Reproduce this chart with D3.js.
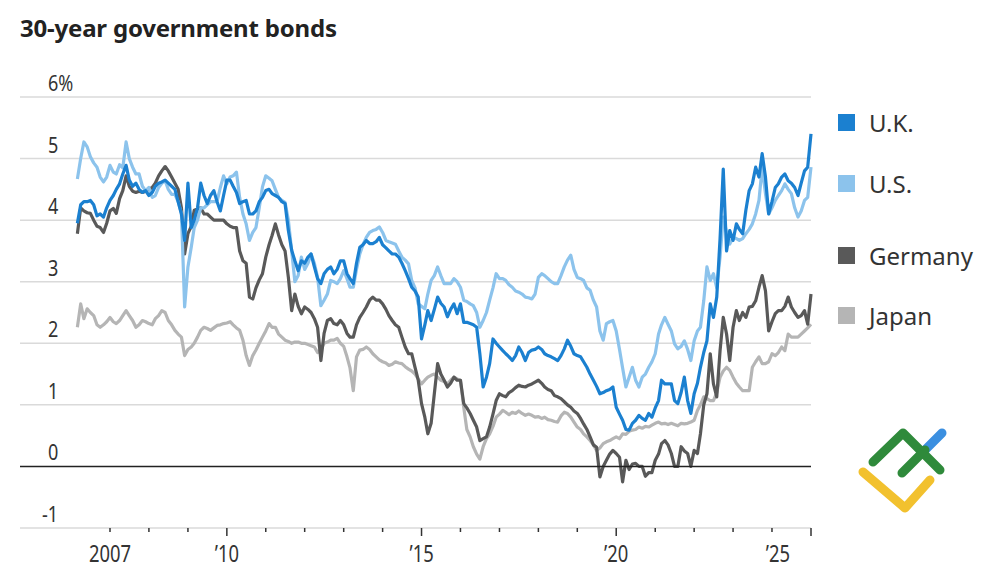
<!DOCTYPE html>
<html>
<head>
<meta charset="utf-8">
<script src="https://cdn.jsdelivr.net/npm/d3@7"></script>
<style>
  body { margin: 0; background: #fff; }
  svg { display: block; }
</style>
</head>
<body>
<div id="chart"></div>
<script>
// ---- data (monthly, Mar 2006 .. Jan 2025) ----
var seriesNames = ["U.K.", "U.S.", "Germany", "Japan"];

var ukYields = [
  3.95, 4.25, 4.3, 4.3, 4.32, 4.25, 4.07, 4.1, 4.05, 4.2,                 // 2006
  4.32, 4.4, 4.5, 4.59, 4.75, 4.89, 4.65, 4.55, 4.6, 4.5, 4.45, 4.48,     // 2007
  4.4, 4.45, 4.55, 4.6, 4.62, 4.65, 4.6, 4.55, 4.5, 4.3, 4.1, 3.67,       // 2008
  4.6, 3.88, 4.0, 4.2, 4.6, 4.4, 4.27, 4.4, 4.48, 4.3, 4.15, 4.4,         // 2009
  4.65, 4.65, 4.55, 4.45, 4.27, 4.3, 4.32, 4.1, 4.1, 4.15, 4.3, 4.37,     // 2010
  4.48, 4.5, 4.43, 4.4, 4.37, 4.3, 4.27, 3.83, 3.51, 3.34, 3.18, 3.34,    // 2011
  3.3, 3.4, 3.45, 3.24, 3.05, 2.97, 3.13, 3.2, 3.24, 3.13, 3.2, 3.34,     // 2012
  3.34, 3.13, 3.05, 2.97, 3.3, 3.56, 3.6, 3.67, 3.62, 3.62, 3.65, 3.72,   // 2013
  3.6, 3.55, 3.5, 3.45, 3.45, 3.4, 3.3, 3.18, 3.05, 2.91, 2.85, 2.75,     // 2014
  2.07, 2.3, 2.53, 2.37, 2.55, 2.75, 2.65, 2.59, 2.43, 2.55, 2.64, 2.48,  // 2015
  2.64, 2.34, 2.34, 2.32, 2.3, 2.26, 1.83, 1.29, 1.45, 1.67, 2.07, 2.0,   // 2016
  1.94, 1.88, 1.83, 1.78, 1.72, 1.8, 1.94, 1.85, 1.72, 1.85, 1.89, 1.9,   // 2017
  1.94, 1.9, 1.83, 1.8, 1.78, 1.75, 1.72, 1.8, 1.91, 2.05, 1.95, 1.83,    // 2018
  1.8, 1.78, 1.7, 1.61, 1.5, 1.4, 1.3, 1.18, 1.2, 1.23, 1.25, 1.29,       // 2019
  0.96, 0.85, 0.75, 0.6, 0.59, 0.7, 0.75, 0.83, 0.78, 0.75, 0.86, 0.8,    // 2020
  0.95, 1.07, 1.4, 1.34, 1.34, 1.34, 1.07, 1.02, 1.2, 1.45, 1.07, 0.86,   // 2021
  1.18, 1.35, 1.61, 1.85, 2.04, 2.64, 2.42, 2.75, 3.7, 4.83, 3.5, 3.83,   // 2022
  3.67, 3.94, 3.85, 3.78, 4.16, 4.48, 4.59, 4.86, 4.7, 5.08, 4.7, 4.1,    // 2023
  4.3, 4.53, 4.59, 4.7, 4.75, 4.64, 4.6, 4.53, 4.4, 4.6, 4.8, 4.86,       // 2024
  5.4                                                                     // 2025
];

var usYields = [
  4.67, 5.0, 5.27, 5.19, 5.03, 4.93, 4.86, 4.7, 4.62, 4.7,
  4.89, 4.78, 4.75, 4.9, 4.85, 5.27, 5.0, 4.86, 4.75, 4.75, 4.55, 4.48,
  4.53, 4.37, 4.4, 4.53, 4.6, 4.64, 4.5, 4.42, 4.42, 4.3, 4.11, 2.59,
  3.24, 3.56, 3.88, 4.0, 4.2, 4.2, 4.25, 4.3, 4.3, 4.3, 4.53, 4.72,
  4.59, 4.7, 4.72, 4.78, 4.37, 4.1, 3.94, 3.67, 3.8, 3.88, 4.2, 4.54,
  4.72, 4.68, 4.64, 4.5, 4.37, 4.32, 4.29, 4.0, 3.5, 3.0, 3.1, 3.4,
  3.2, 3.3, 3.45, 3.3, 3.07, 2.61, 2.7, 2.8, 3.02, 3.0, 2.97, 3.05,
  3.18, 3.05, 2.91, 2.91, 3.2, 3.45, 3.6, 3.72, 3.8, 3.83, 3.85, 3.89,
  3.8, 3.67, 3.65, 3.63, 3.61, 3.5, 3.4, 3.35, 3.29, 3.02, 2.9, 2.64,
  2.6, 2.56, 2.8, 3.02, 3.1, 3.24, 3.1, 2.97, 2.97, 2.97, 3.05, 3.0,
  2.91, 2.7, 2.68, 2.64, 2.61, 2.5, 2.26, 2.37, 2.5, 2.7, 2.9, 3.13,
  3.05, 3.05, 3.02, 2.95, 2.91, 2.85, 2.83, 2.8, 2.75, 2.74, 2.72, 2.8,
  3.07, 3.13, 3.1, 3.05, 3.0, 2.97, 2.97, 3.1, 3.24, 3.35, 3.43, 3.2,
  3.07, 3.05, 3.02, 2.9, 2.86, 2.7, 2.59, 2.2, 2.05, 2.32, 2.35, 2.37,
  2.2, 1.9, 1.6, 1.29, 1.45, 1.61, 1.4, 1.29, 1.45, 1.5, 1.61, 1.7,
  1.83, 2.15, 2.3, 2.42, 2.31, 2.2, 1.99, 1.91, 1.95, 2.04, 1.9, 1.72,
  2.04, 2.2, 2.26, 2.69, 3.24, 3.02, 3.13, 2.9, 3.4, 4.05, 3.8, 3.61,
  3.72, 3.7, 3.67, 3.7, 3.78, 3.85, 3.94, 4.1, 4.32, 4.86, 4.43, 4.1,
  4.2, 4.32, 4.4, 4.48, 4.59, 4.5, 4.43, 4.2, 4.05, 4.15, 4.32, 4.37,
  4.86
];

var germanyYields = [
  3.78, 4.2, 4.15, 4.12, 4.11, 4.0, 3.9, 3.88, 3.8, 3.95,
  4.15, 4.19, 4.11, 4.35, 4.48, 4.72, 4.55, 4.47, 4.45, 4.47, 4.45, 4.47,
  4.5, 4.53, 4.6, 4.72, 4.8, 4.87, 4.8, 4.7, 4.6, 4.5, 4.2, 3.45,
  3.78, 3.9, 4.16, 4.18, 4.2, 4.1, 4.1, 4.05, 4.0, 4.0, 4.0, 4.0,
  3.94, 3.9, 3.88, 3.88, 3.5, 3.34, 3.3, 2.75, 2.72, 2.9, 3.03, 3.13,
  3.4, 3.6, 3.75, 3.94, 3.76, 3.6, 3.5, 3.07, 2.53, 2.8, 2.6, 2.48,
  2.59, 2.55, 2.5, 2.4, 2.26, 1.72, 2.16, 2.37, 2.4, 2.32, 2.3, 2.37,
  2.3, 2.16, 2.1, 2.1, 2.3, 2.42, 2.5, 2.59, 2.7, 2.75, 2.7, 2.7,
  2.64, 2.55, 2.45, 2.37, 2.3, 2.26, 2.1, 1.94, 1.83, 1.83, 1.61, 1.4,
  1.02, 0.8, 0.53, 0.7, 1.18, 1.67, 1.5, 1.4, 1.29, 1.35, 1.45, 1.4,
  1.4, 1.02, 0.95, 0.86, 0.75, 0.64, 0.42, 0.45, 0.48, 0.64, 0.85, 1.07,
  1.18, 1.15, 1.13, 1.2, 1.23, 1.28, 1.32, 1.3, 1.29, 1.32, 1.34, 1.37,
  1.4, 1.35, 1.29, 1.25, 1.23, 1.15, 1.13, 1.1, 1.05, 1.0, 0.96, 0.9,
  0.86, 0.78, 0.69, 0.6, 0.48, 0.35, 0.31, -0.17, 0.0, 0.1, 0.2, 0.26,
  0.21, 0.15, -0.25, 0.1, -0.05, 0.04, 0.05, 0.0, 0.0, -0.16, -0.1, -0.1,
  0.1, 0.2, 0.37, 0.42, 0.35, 0.21, 0.0, 0.0, 0.32, 0.25, 0.21, 0.0,
  0.26, 0.21, 0.53, 1.0, 1.18, 1.83, 1.34, 1.13, 1.88, 2.42, 2.15, 1.72,
  2.26, 2.53, 2.37, 2.5, 2.42, 2.59, 2.6, 2.69, 2.91, 3.1, 2.85, 2.2,
  2.35, 2.48, 2.53, 2.53, 2.6, 2.75, 2.59, 2.5, 2.42, 2.45, 2.53, 2.31,
  2.8
];

var japanYields = [
  2.26, 2.64, 2.4, 2.56, 2.5, 2.45, 2.3, 2.26, 2.3, 2.35,
  2.42, 2.35, 2.32, 2.37, 2.45, 2.53, 2.45, 2.37, 2.26, 2.3, 2.37, 2.35,
  2.32, 2.3, 2.4, 2.45, 2.53, 2.5, 2.37, 2.3, 2.21, 2.15, 2.1, 1.8,
  1.9, 1.94, 2.0, 2.1, 2.21, 2.26, 2.24, 2.21, 2.25, 2.29, 2.3, 2.32,
  2.33, 2.35, 2.3, 2.25, 2.21, 2.05, 1.8, 1.64, 1.8, 1.89, 2.0, 2.1,
  2.2, 2.32, 2.26, 2.26, 2.15, 2.1, 2.05, 2.03, 2.0, 2.02, 2.02, 2.0,
  2.0, 1.98, 1.96, 1.94, 1.85, 1.9, 2.0, 2.02, 2.05, 2.05, 2.08, 2.0,
  1.95, 1.78, 1.6, 1.23, 1.78, 1.89, 1.9, 1.94, 1.9, 1.83, 1.78, 1.73,
  1.7, 1.68, 1.64, 1.66, 1.7, 1.68, 1.67, 1.62, 1.58, 1.55, 1.5, 1.42,
  1.34, 1.4, 1.45, 1.48, 1.5, 1.45, 1.4, 1.38, 1.34, 1.4, 1.45, 1.42,
  1.4, 0.96, 0.6, 0.48, 0.32, 0.2, 0.12, 0.32, 0.45, 0.53, 0.65, 0.8,
  0.85, 0.91, 0.88, 0.84, 0.88, 0.86, 0.9, 0.86, 0.83, 0.85, 0.83, 0.8,
  0.81, 0.78, 0.8, 0.76, 0.75, 0.73, 0.72, 0.82, 0.88, 0.86, 0.8, 0.72,
  0.64, 0.6, 0.53, 0.48, 0.42, 0.35, 0.26, 0.3, 0.37, 0.4, 0.42, 0.45,
  0.48, 0.45, 0.53, 0.52, 0.57, 0.59, 0.6, 0.64, 0.62, 0.65, 0.64, 0.67,
  0.7, 0.72, 0.69, 0.7, 0.68, 0.7, 0.68, 0.66, 0.7, 0.69, 0.7, 0.72,
  0.75, 0.91, 1.0, 1.13, 1.1, 1.07, 1.07, 1.2, 1.45, 1.55, 1.61, 1.56,
  1.45, 1.35, 1.29, 1.23, 1.23, 1.23, 1.61, 1.7, 1.78, 1.67, 1.67, 1.7,
  1.83, 1.8, 1.85, 1.94, 1.88, 2.15, 2.1, 2.1, 2.1, 2.15, 2.2, 2.25,
  2.31
];

var yTicks = [-1, 0, 1, 2, 3, 4, 5, 6];
var yTickLabels = ["-1", "0", "1", "2", "3", "4", "5", "6%"];
var xLabelYears = [2007, 2010, 2015, 2020, 2025];
var xTickLabels = ["2007", "\u201910", "\u201915", "\u201920", "\u201925"];
var majorYears = [2010, 2015, 2020, 2025];

// ---- layout ----
var svgWidth = 994;
var svgHeight = 575;
var plotLeft = 20;
var plotRight = 811;
var legendBaselines = [132, 193, 265, 325];

var months = d3.timeMonth.range(new Date(2006, 2, 1), new Date(2025, 1, 1));

var valueSets = [ukYields, usYields, germanyYields, japanYields];
var series = seriesNames.map(function(name, i) {
  return {
    name: name,
    values: months.map(function(m, j) { return {date: m, value: valueSets[i][j]}; })
  };
});

var color = d3.scaleOrdinal()
  .domain(seriesNames)
  .range(["#1b80d0", "#8cc3ec", "#595959", "#b5b5b5"]);

var x = d3.scaleTime()
  .domain([new Date(2007, 0, 1), new Date(2025, 0, 1)])
  .range([110, plotRight]);

var y = d3.scaleLinear()
  .domain([-1, 6])
  .range([528, 97]);

var svg = d3.select("#chart")
  .append("svg")
  .attr("width", svgWidth)
  .attr("height", svgHeight);

var labelFont = "'Noto Sans', sans-serif";

// title
svg.append("text")
  .attr("x", 20)
  .attr("y", 37)
  .attr("font-family", labelFont)
  .attr("font-weight", 700)
  .attr("font-size", 24)
  .attr("letter-spacing", -0.2)
  .attr("fill", "#222")
  .text("30-year government bonds");

// gridlines + y labels
var grid = svg.append("g");
grid.selectAll("line")
  .data(yTicks.filter(function(d) { return d !== 0; }))
  .enter()
  .append("line")
  .attr("x1", plotLeft)
  .attr("x2", plotRight)
  .attr("y1", function(d) { return y(d); })
  .attr("y2", function(d) { return y(d); })
  .attr("stroke", "#dadada")
  .attr("stroke-width", 1.5);

grid.selectAll("text")
  .data(yTicks)
  .enter()
  .append("text")
  .attr("transform", function(d) {
    return "translate(" + (d < 0 ? 42 : 48) + "," + (y(d) - 6) + ") scale(0.86,1)";
  })
  .attr("font-family", labelFont)
  .attr("font-size", 21)
  .attr("fill", "#333")
  .text(function(d, i) { return yTickLabels[i]; });

// x axis ticks
var years = d3.timeYear.range(new Date(2007, 0, 1), new Date(2025, 0, 2));
var xAxis = svg.append("g");
xAxis.selectAll("line")
  .data(years)
  .enter()
  .append("line")
  .attr("x1", function(d) { return x(d); })
  .attr("x2", function(d) { return x(d); })
  .attr("y1", 528)
  .attr("y2", function(d) { return majorYears.indexOf(d.getFullYear()) >= 0 ? 536 : 532; })
  .attr("stroke", "#333")
  .attr("stroke-width", 1.5);

xAxis.selectAll("text")
  .data(xLabelYears)
  .enter()
  .append("text")
  .attr("transform", function(d, i) {
    var px = x(new Date(d, 0, 1));
    if (i === xLabelYears.length - 1) px -= 21;
    return "translate(" + px + ",562) scale(0.8,1)";
  })
  .attr("text-anchor", function(d, i) { return i === xLabelYears.length - 1 ? "end" : "middle"; })
  .attr("font-family", labelFont)
  .attr("font-size", 23)
  .attr("fill", "#333")
  .text(function(d, i) { return xTickLabels[i]; });

// lines (Japan at the back, U.K. on top)
var line = d3.line()
  .x(function(d) { return x(d.date); })
  .y(function(d) { return y(d.value); });

svg.append("g")
  .selectAll("path")
  .data(series.slice().reverse())
  .enter()
  .append("path")
  .attr("d", function(d) { return line(d.values); })
  .attr("fill", "none")
  .attr("stroke", function(d) { return color(d.name); })
  .attr("stroke-width", 3.2)
  .attr("stroke-linejoin", "round");

// zero line
svg.append("line")
  .attr("x1", plotLeft)
  .attr("x2", plotRight)
  .attr("y1", y(0))
  .attr("y2", y(0))
  .attr("stroke", "#222")
  .attr("stroke-width", 1.5);

// legend
var legend = svg.append("g")
  .selectAll("g")
  .data(seriesNames)
  .enter()
  .append("g");

legend.append("rect")
  .attr("x", 838)
  .attr("y", function(d, i) { return legendBaselines[i] - 18; })
  .attr("width", 17)
  .attr("height", 17)
  .attr("fill", function(d) { return color(d); });

legend.append("text")
  .attr("x", 869)
  .attr("y", function(d, i) { return legendBaselines[i]; })
  .attr("font-family", labelFont)
  .attr("font-size", 24)
  .attr("fill", "#333")
  .text(function(d) { return d; });

// logo
var logo = svg.append("g")
  .attr("fill", "none")
  .attr("stroke-width", 9)
  .attr("stroke-linecap", "round")
  .attr("stroke-linejoin", "round");
logo.append("path").attr("d", "M925,450 L942,433").attr("stroke", "#3b8fe0");
logo.append("path").attr("d", "M863,472 L905,508 L930,480").attr("stroke", "#f2c12e");
logo.append("path").attr("d", "M873,462 L903,433 L940,470").attr("stroke", "#2f8a3b");
logo.append("path").attr("d", "M902,473 L925,450").attr("stroke", "#2f8a3b");
</script>
</body>
</html>
